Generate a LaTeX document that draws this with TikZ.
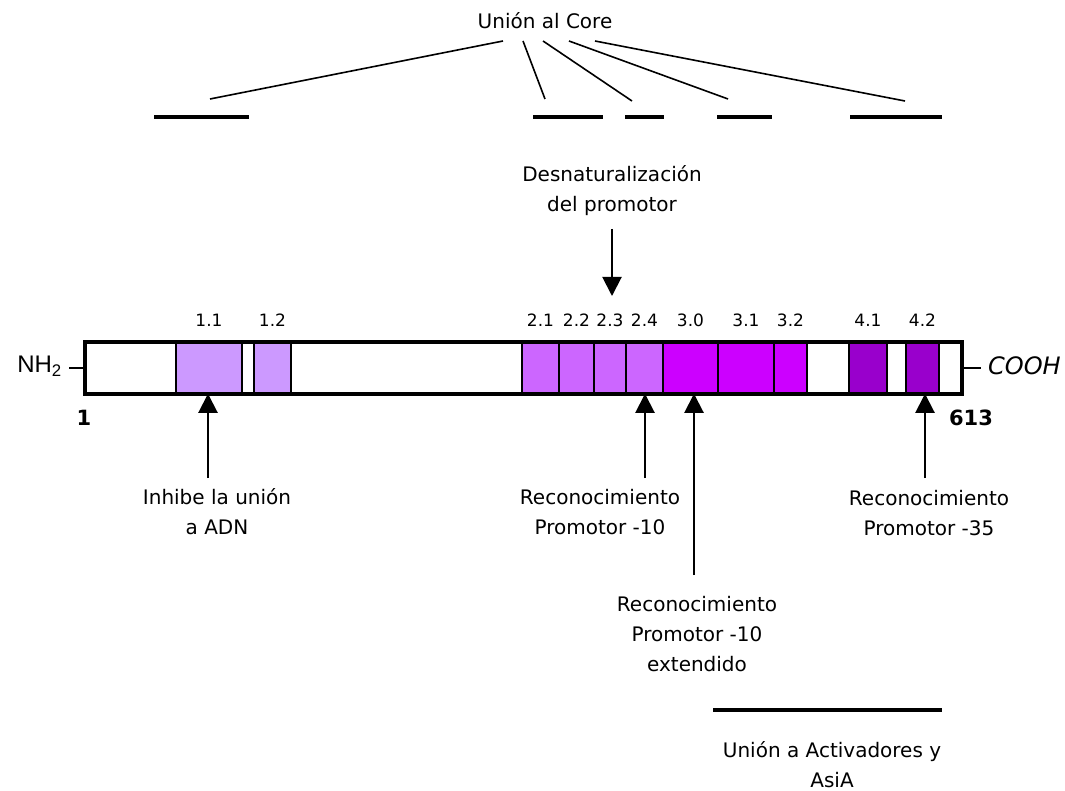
\documentclass[tikz,border=0pt]{standalone}
\usepackage{fontspec}
\setmainfont{DejaVu Sans}
\newfontfamily\nhfont{Liberation Sans}
\usetikzlibrary{arrows.meta,positioning,calc}
\definecolor{lila}{HTML}{CC99FF}
\definecolor{malva}{HTML}{CC66FF}
\definecolor{fucsia}{HTML}{CC00FF}
\definecolor{morado}{HTML}{9900CC}
\tikzstyle{l2}=[line width=1.6pt]
\tikzstyle{seg}=[rectangle, draw=black, line width=2pt, minimum height=52pt, inner sep=0pt, outer sep=0pt, anchor=west]
\tikzstyle{frame}=[rectangle, draw=black, line width=3.5pt, minimum height=52pt, minimum width=877pt, inner sep=0pt]
\tikzstyle{num}=[font=\fontsize{17}{19}\selectfont, inner sep=0pt]
\tikzstyle{txt}=[align=center, font=\fontsize{20}{30}\selectfont, inner sep=0pt]
\tikzstyle{arr}=[line width=2pt, -{Triangle[width=19pt,length=19pt]}]
\tikzstyle{corebar}=[line width=4pt]
\tikzstyle{ends}=[font=\bfseries\fontsize{21}{21}\selectfont, inner sep=0pt]

\begin{document}
\begin{tikzpicture}[x=1pt, y=-1pt]

    \useasboundingbox (0,0) rectangle (1065,791);

    % regiones del factor sigma
    \foreach \n/\xa/\xb/\c in {s11/176/242/lila, s12/254/291/lila,
            s21/522/559/malva, s22/559/594/malva, s23/594/626/malva, s24/626/663/malva,
            s30/663/718/fucsia, s31/718/774/fucsia, s32/774/807/fucsia,
            s41/849/887/morado, s42/906/939/morado}{
            \node (\n) [seg, fill=\c, minimum width=(\xb-\xa)*1pt] at (\xa,368) {};
        }
    \node (bar) [frame] at (523.5,368) {};

    \foreach \n/\t in {s11/1.1, s12/1.2, s21/2.1, s22/2.2, s23/2.3, s24/2.4,
            s30/3.0, s31/3.1, s32/3.2, s41/4.1, s42/4.2}{
            \node (l\n) [num] at (\n.center |- 0,320) {\t};
        }

    \node (nh) [anchor=east, inner sep=0pt, font=\nhfont\fontsize{24}{24}\selectfont] at (62,366) {NH\textsubscript{2}};
    \node (cooh) [anchor=west, inner sep=0pt, font=\itshape\fontsize{24}{24}\selectfont] at (988,366) {COOH};
    \coordinate (nhd) at (69,368);
    \coordinate (coohd) at (981,368);
    \draw[l2] (nhd) -- (nhd -| bar.west);
    \draw[l2] (bar.east |- coohd) -- (coohd);
    \node (n1) [ends] at (84,418) {1};
    \node (n613) [ends] at (971,418) {613};

    % union al core
    \node (core) [txt] at (545,21) {Unión al Core};
    \foreach \i/\xa/\xb/\yb in {1/503/210/99, 2/523/545/99, 3/543/632/101, 4/569/728/99, 5/595/905/101}{
            \coordinate (u\i) at (\xa,41);
            \coordinate (v\i) at (\xb,\yb);
            \draw[l2] (u\i) -- (v\i);
        }
    \foreach \xa/\xb in {154/249, 533/603, 625/664, 717/772, 850/942}{
            \draw[corebar] (\xa,117) -- (\xb,117);
        }

    \node (desn) [txt] at (612,191) {Desnaturalización\\del promotor};
    \coordinate (d0) at (612,229); \coordinate (d1) at (612,296);
    \draw[arr] (d0) -- (d1);

    % funciones
    \node (inh) [txt] at (217,512) {Inhibe la unión\\a ADN};
    \node (rec10) [txt] at (600,512) {Reconocimiento\\Promotor -10};
    \node (rec10e) [txt] at (697,634) {Reconocimiento\\Promotor -10\\extendido};
    \node (rec35) [txt] at (929,513) {Reconocimiento\\Promotor -35};

    \coordinate (a11) at (208,478);
    \coordinate (a24) at (645,478);
    \coordinate (a30) at (694,575);
    \coordinate (a42) at (925,478);
    \foreach \a in {a11,a24,a30,a42}{
            \draw[arr, shorten >=-2pt] (\a) -- (\a |- bar.south);
        }

    \draw[corebar] (713,710) -- (942,710);
    \node (act) [txt] at (832,765) {Unión a Activadores y\\AsiA};

\end{tikzpicture}
\end{document}
